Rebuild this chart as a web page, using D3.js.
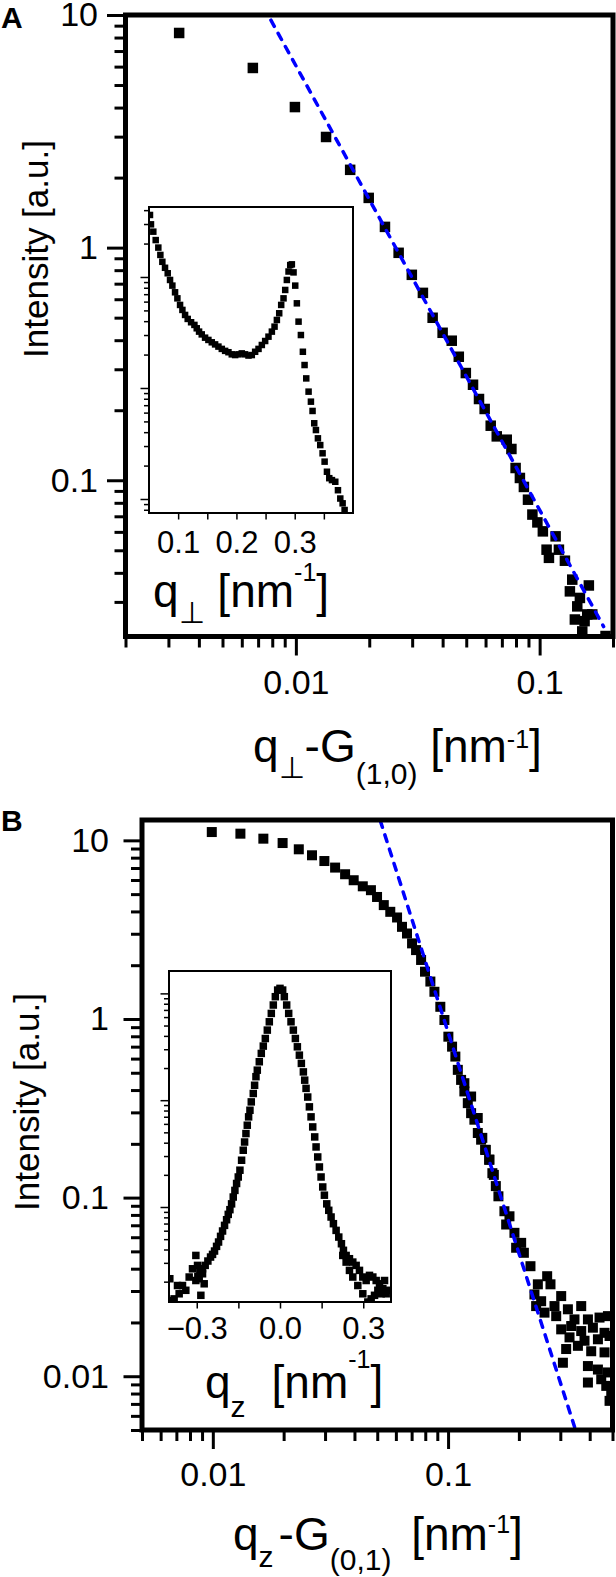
<!DOCTYPE html>
<html>
<head>
<meta charset="utf-8">
<script src="https://cdn.jsdelivr.net/npm/d3@7"></script>
<style>
  body { margin: 0; background: #fff; }
  svg { display: block; }
</style>
</head>
<body>
<div id="vis"></div>
<script>
const width = 616;
const height = 1577;
const FONT = "'Liberation Sans', Arial, Helvetica, sans-serif";

// ---- data: [q, intensity] ----
const mainA = [
  [0.00332, 8.37], [0.00666, 5.92], [0.00991, 4.02], [0.0133, 2.99], [0.0167, 2.16],
  [0.0199, 1.636], [0.0232, 1.228], [0.0264, 0.950], [0.0299, 0.764], [0.0332, 0.639],
  [0.0364, 0.4995], [0.0400, 0.4305], [0.0436, 0.398], [0.0466, 0.3396], [0.0498, 0.289],
  [0.0533, 0.2574], [0.0564, 0.2235], [0.0595, 0.2025], [0.0630, 0.1716], [0.0667, 0.1544],
  [0.0733, 0.1494], [0.0766, 0.1363], [0.0797, 0.1129], [0.0830, 0.1023], [0.0862, 0.0936],
  [0.0896, 0.0825], [0.0934, 0.0712], [0.0979, 0.0659], [0.1031, 0.0603], [0.1163, 0.0574],
  [0.1068, 0.0503], [0.1092, 0.0464], [0.1200, 0.0503], [0.1270, 0.0451], [0.1361, 0.0374],
  [0.1331, 0.0333], [0.1592, 0.0353], [0.1463, 0.0312], [0.1427, 0.0287], [0.1568, 0.0265],
  [0.1644, 0.0265], [0.1395, 0.0252], [0.1529, 0.0248], [0.1496, 0.0224], [0.1864, 0.0214]
];
const fitA = [[0.0079, 9.5], [0.183, 0.0235]];

const insetA = [
  [0.0517, 3.62], [0.0534, 2.98], [0.0574, 2.56], [0.0615, 2.15], [0.0660, 1.84],
  [0.0695, 1.58], [0.0729, 1.37], [0.0775, 1.21], [0.0821, 1.08], [0.0861, 0.94],
  [0.0901, 0.836], [0.0947, 0.728], [0.0987, 0.642], [0.1033, 0.560], [0.1073, 0.505],
  [0.1119, 0.455], [0.1164, 0.419], [0.1222, 0.391], [0.1279, 0.370], [0.1319, 0.345],
  [0.1359, 0.322], [0.1405, 0.304], [0.1462, 0.284], [0.1519, 0.271], [0.1577, 0.258],
  [0.1634, 0.247], [0.1691, 0.236], [0.1749, 0.225], [0.1806, 0.216], [0.1863, 0.210],
  [0.1920, 0.201], [0.1978, 0.198], [0.2035, 0.201], [0.2092, 0.205], [0.2149, 0.201],
  [0.2207, 0.196], [0.2264, 0.198], [0.2321, 0.212], [0.2379, 0.225], [0.2436, 0.244],
  [0.2493, 0.265], [0.2550, 0.290], [0.2608, 0.322], [0.2654, 0.357], [0.2694, 0.410],
  [0.2734, 0.471], [0.2768, 0.560], [0.2808, 0.642], [0.2837, 0.764], [0.2865, 0.94],
  [0.2894, 1.12], [0.2923, 1.28], [0.2951, 1.30], [0.2980, 1.10], [0.3009, 0.836],
  [0.3037, 0.579], [0.3066, 0.396], [0.3106, 0.300], [0.3140, 0.212], [0.3169, 0.161],
  [0.3198, 0.122], [0.3238, 0.0927], [0.3278, 0.0753], [0.3306, 0.0621], [0.3335, 0.0481],
  [0.3364, 0.0418], [0.3398, 0.0352], [0.3438, 0.0306], [0.3478, 0.0258], [0.3513, 0.0217],
  [0.3553, 0.0176], [0.3593, 0.0154], [0.3639, 0.0148], [0.3696, 0.0143], [0.3742, 0.0120],
  [0.3782, 0.0101], [0.3822, 0.00914], [0.3856, 0.00796]
];

const mainB = [
  [0.0099, 11.13], [0.0131, 10.90], [0.0164, 10.22], [0.0198, 9.66], [0.0232, 8.91],
  [0.0264, 8.25], [0.0298, 7.66], [0.0331, 7.04], [0.0365, 6.46], [0.0397, 5.98],
  [0.0434, 5.53], [0.0470, 5.26], [0.0499, 4.82], [0.0533, 4.34], [0.0568, 3.98],
  [0.0607, 3.70], [0.0637, 3.28], [0.0669, 3.01], [0.0703, 2.65], [0.0731, 2.43],
  [0.0768, 2.14], [0.0798, 1.84], [0.0841, 1.62], [0.0875, 1.42], [0.0927, 1.17],
  [0.0965, 0.987], [0.1003, 0.796], [0.1040, 0.700], [0.1074, 0.616], [0.1100, 0.519],
  [0.1136, 0.456], [0.1173, 0.393], [0.1213, 0.338], [0.1253, 0.297], [0.1294, 0.273],
  [0.1338, 0.230], [0.1382, 0.211], [0.1437, 0.185], [0.1499, 0.163], [0.1565, 0.134],
  [0.1173, 0.437], [0.1253, 0.368], [0.1337, 0.279], [0.1398, 0.216], [0.1447, 0.185],
  [0.1495, 0.163], [0.1543, 0.137], [0.1596, 0.116], [0.1637, 0.1017], [0.1736, 0.0839],
  [0.1824, 0.0786], [0.1766, 0.0707], [0.1915, 0.0635], [0.2045, 0.0558], [0.1947, 0.0524],
  [0.2100, 0.0491], [0.2240, 0.0413], [0.2638, 0.0363], [0.2408, 0.0327], [0.2725, 0.0327],
  [0.2329, 0.0287], [0.2487, 0.0263], [0.3026, 0.0281], [0.2834, 0.0247], [0.2368, 0.0247],
  [0.2570, 0.0227], [0.3231, 0.0237], [0.3681, 0.0247], [0.2882, 0.0217], [0.3446, 0.0208],
  [0.3931, 0.0208], [0.4404, 0.0213], [0.4782, 0.0217], [0.3026, 0.0183], [0.3338, 0.0191],
  [0.3681, 0.0179], [0.4127, 0.0187], [0.4625, 0.0175], [0.3283, 0.0165], [0.3802, 0.0158],
  [0.4335, 0.0161], [0.4858, 0.0168], [0.3177, 0.0142], [0.3564, 0.0148], [0.4059, 0.0138],
  [0.4625, 0.0136], [0.3077, 0.0119], [0.3931, 0.0114], [0.4335, 0.0109], [0.4782, 0.0105],
  [0.4478, 0.00962], [0.3931, 0.00922], [0.4704, 0.00883], [0.4939, 0.00811], [0.4858, 0.00728]
];
const fitB = [[0.0515, 12.9], [0.345, 0.0052]];

const insetB = [
  [0, 1.114], [0.0096, 1.074],
  [-0.0084, 1.074], [-0.0168, 0.931], [-0.0241, 0.778], [-0.0313, 0.649], [-0.0385, 0.542],
  [-0.0457, 0.453], [-0.0529, 0.378], [-0.0602, 0.321], [-0.0674, 0.274], [-0.0746, 0.229],
  [-0.0818, 0.191], [-0.0866, 0.166], [-0.0915, 0.138], [-0.0963, 0.1155], [-0.1035, 0.0964],
  [-0.1083, 0.0805], [-0.1131, 0.0698], [-0.1179, 0.0583], [-0.1227, 0.0487], [-0.1276, 0.0406],
  [-0.1324, 0.0340], [-0.1384, 0.0274], [-0.1444, 0.0221], [-0.1504, 0.0191], [-0.1564, 0.0166],
  [-0.1625, 0.0143], [-0.1685, 0.0124], [-0.1745, 0.0107], [-0.1805, 0.00944], [-0.1865, 0.00853],
  [-0.1925, 0.00760], [-0.1998, 0.00673], [-0.2070, 0.00596], [-0.2142, 0.00531], [-0.2214, 0.00470],
  [-0.2286, 0.00428], [-0.2359, 0.00387], [-0.2431, 0.00360], [-0.2503, 0.00340], [-0.2599, 0.00312],
  [-0.2696, 0.00284], [-0.2792, 0.00264], [-0.2888, 0.00246], [-0.2960, 0.00224], [-0.3032, 0.00205],
  [-0.3032, 0.00352], [-0.3153, 0.00264], [-0.2972, 0.00284], [-0.2912, 0.00213], [-0.2792, 0.00237],
  [-0.2852, 0.00149], [-0.2732, 0.00191], [-0.3273, 0.00221], [-0.3394, 0.00166], [-0.3514, 0.00184],
  [-0.3634, 0.00154], [-0.3694, 0.00184], [-0.3815, 0.00138], [-0.3971, 0.00213], [-0.3935, 0.00133],
  [0.0156, 0.931], [0.0241, 0.778], [0.0313, 0.649], [0.0397, 0.542], [0.0481, 0.453],
  [0.0554, 0.378], [0.0626, 0.316], [0.0698, 0.264], [0.0770, 0.221], [0.0842, 0.184],
  [0.0890, 0.154], [0.0939, 0.129], [0.0999, 0.107], [0.1059, 0.0866], [0.1119, 0.0698],
  [0.1179, 0.0562], [0.1251, 0.0453], [0.1300, 0.0365], [0.1360, 0.0294], [0.1420, 0.0237],
  [0.1480, 0.0191], [0.1540, 0.0154], [0.1600, 0.0129], [0.1685, 0.0107], [0.1757, 0.00931],
  [0.1841, 0.00806], [0.1925, 0.00698], [0.2022, 0.00604], [0.2118, 0.00523], [0.2214, 0.00453],
  [0.2286, 0.00393], [0.2383, 0.00352], [0.2503, 0.00328], [0.2623, 0.00305], [0.2744, 0.00284],
  [0.2864, 0.00255], [0.2984, 0.00221], [0.3105, 0.00205],
  [0.2262, 0.00352], [0.2383, 0.00305], [0.2503, 0.00255], [0.2623, 0.00221], [0.2804, 0.00184],
  [0.2984, 0.00154], [0.3165, 0.00129], [0.3285, 0.00138], [0.3406, 0.00149], [0.3526, 0.00166],
  [0.3646, 0.00154], [0.3767, 0.00205], [0.3887, 0.00166], [0.3225, 0.00229], [0.3345, 0.00221],
  [0.3466, 0.00205], [0.3586, 0.00191], [0.3706, 0.00172], [0.3827, 0.00154]
];

// tick values
const xTicksA = [0.01, 0.1];
const yTicksA = [0.1, 1, 10];
const xTicksB = [0.01, 0.1];
const yTicksB = [0.01, 0.1, 1, 10];
const insetTicksA = [0.1, 0.2, 0.3];
const insetMinorA = [0.15, 0.25, 0.35];
const insetTicksB = [-0.3, 0, 0.3];
const insetMinorB = [-0.15, 0.15];

const svg = d3.select('#vis').append('svg')
  .attr('width', width)
  .attr('height', height)
  .attr('font-family', FONT);

// minor ticks of a log domain (2..9 of each decade)
function logMinors(domain) {
  const out = [];
  const lo = Math.floor(Math.log10(domain[0])), hi = Math.ceil(Math.log10(domain[1]));
  for (let e = lo; e <= hi; e++) {
    for (let k = 2; k < 10; k++) {
      const v = k * Math.pow(10, e);
      if (v >= domain[0] && v <= domain[1]) out.push(v);
    }
  }
  return out;
}

function styleAxis(g, w, size) {
  g.select('.domain').remove();
  g.selectAll('line').attr('stroke-width', w);
  g.selectAll('text').attr('font-family', FONT).attr('font-size', size);
}

// text built from pieces with sub/superscripts
function richText(parent, x, y, parts, size) {
  const t = parent.append('text')
    .attr('x', x)
    .attr('y', y)
    .attr('font-size', size)
    .attr('fill', '#000');
  let shift = 0;
  parts.forEach(p => {
    const dy = p.dy || 0;
    t.append('tspan')
      .attr('dy', dy - shift)
      .attr('dx', p.dx || 0)
      .attr('font-size', p.size || size)
      .text(p.text);
    shift = dy;
  });
  return t;
}

function drawMarkers(g, data, x, y, s) {
  g.selectAll(null)
    .data(data)
    .enter().append('rect')
    .attr('x', d => x(d[0]) - s / 2)
    .attr('y', d => y(d[1]) - s / 2)
    .attr('width', s)
    .attr('height', s)
    .attr('fill', '#000');
}

function drawMain(p) {
  const x = p.x, y = p.y;
  const [x0, x1] = x.range(), [y0, y1] = y.range();
  const clipId = 'clip' + p.id;
  svg.append('clipPath').attr('id', clipId)
    .append('rect')
    .attr('x', x0).attr('y', y1)
    .attr('width', x1 - x0).attr('height', y0 - y1);

  const plot = svg.append('g').attr('clip-path', `url(#${clipId})`);
  drawMarkers(plot, p.data, x, y, p.marker);
  plot.append('path')
    .datum(p.fit)
    .attr('d', d3.line().x(d => x(d[0])).y(d => y(d[1])))
    .attr('fill', 'none')
    .attr('stroke', '#0000ff')
    .attr('stroke-width', 3.5)
    .attr('stroke-linecap', 'round')
    .attr('stroke-dasharray', '7,8');

  // axes
  svg.append('g').attr('transform', `translate(${x0},0)`)
    .call(d3.axisLeft(y).tickValues(logMinors(y.domain())).tickSize(11).tickFormat(''))
    .call(g => styleAxis(g, 3, 34));
  svg.append('g').attr('transform', `translate(${x0},0)`)
    .call(d3.axisLeft(y).tickValues(p.yTicks).tickSize(18.5).tickPadding(p.yPad).tickFormat(String))
    .call(g => styleAxis(g, 3, 34));
  svg.append('g').attr('transform', `translate(0,${y0})`)
    .call(d3.axisBottom(x).tickValues(logMinors(x.domain())).tickSize(11).tickFormat(''))
    .call(g => styleAxis(g, 3, 34));
  svg.append('g').attr('transform', `translate(0,${y0})`)
    .call(d3.axisBottom(x).tickValues(p.xTicks).tickSize(19).tickPadding(p.xPad).tickFormat(String))
    .call(g => styleAxis(g, 3, 34));

  svg.append('rect')
    .attr('x', x0).attr('y', y1)
    .attr('width', x1 - x0).attr('height', y0 - y1)
    .attr('fill', 'none')
    .attr('stroke', '#000')
    .attr('stroke-width', 5);
}

function drawInset(p) {
  const x = p.x, y = p.y;
  const [x0, x1] = x.range(), [y0, y1] = y.range();
  svg.append('rect')
    .attr('x', x0).attr('y', y1)
    .attr('width', x1 - x0).attr('height', y0 - y1)
    .attr('fill', '#fff');
  const clipId = 'clip' + p.id;
  svg.append('clipPath').attr('id', clipId)
    .append('rect')
    .attr('x', x0).attr('y', y1)
    .attr('width', x1 - x0).attr('height', y0 - y1);
  const plot = svg.append('g').attr('clip-path', `url(#${clipId})`);
  drawMarkers(plot, p.data, x, y, p.marker);

  svg.append('g').attr('transform', `translate(${x0},0)`)
    .call(d3.axisLeft(y).tickValues(logMinors(y.domain())).tickSize(5).tickFormat(''))
    .call(g => styleAxis(g, 1.5, 10));
  svg.append('g').attr('transform', `translate(${x0},0)`)
    .call(d3.axisLeft(y).tickValues(p.yMajors).tickSize(8.5).tickFormat(''))
    .call(g => styleAxis(g, 1.5, 10));
  svg.append('g').attr('transform', `translate(0,${y0})`)
    .call(d3.axisBottom(x).tickValues(p.xMinor).tickSize(6.5).tickFormat(''))
    .call(g => styleAxis(g, 1.5, 10));
  svg.append('g').attr('transform', `translate(0,${y0})`)
    .call(d3.axisBottom(x).tickValues(p.xTicks).tickSize(6.5).tickPadding(p.xPad).tickFormat(p.fmt))
    .call(g => styleAxis(g, 1.5, 31));

  svg.append('rect')
    .attr('x', x0).attr('y', y1)
    .attr('width', x1 - x0).attr('height', y0 - y1)
    .attr('fill', 'none')
    .attr('stroke', '#000')
    .attr('stroke-width', 2);
}

// ---- panel A ----
drawMain({
  id: 'A',
  x: d3.scaleLog().domain([0.002, 0.2]).range([125.5, 613]),
  y: d3.scaleLog().domain([0.0213, 10]).range([636.5, 15]),
  data: mainA, fit: fitA, marker: 10.5,
  xTicks: xTicksA, yTicks: yTicksA, xPad: 14, yPad: 9
});
drawInset({
  id: 'Ai',
  x: d3.scaleLinear().domain([0.05, 0.4]).range([149, 353]),
  y: d3.scaleLog().domain([0.00748, 4.27]).range([513, 207]),
  data: insetA, marker: 6.5,
  yMajors: [0.01, 0.1, 1],
  xTicks: insetTicksA, xMinor: insetMinorA, xPad: 11, fmt: String
});

// ---- panel B ----
drawMain({
  id: 'B',
  x: d3.scaleLog().domain([0.005, 0.5]).range([142, 612.5]),
  y: d3.scaleLog().domain([0.005, 13]).range([1430, 820]),
  data: mainB, fit: fitB, marker: 10,
  xTicks: xTicksB, yTicks: yTicksB, xPad: 13, yPad: 14.5
});
drawInset({
  id: 'Bi',
  x: d3.scaleLinear().domain([-0.4, 0.4]).range([169, 391]),
  y: d3.scaleLog().domain([0.00129, 1.62]).range([1302, 971]),
  data: insetB, marker: 7.5,
  yMajors: [0.01, 0.1, 1],
  xTicks: insetTicksB, xMinor: insetMinorB, xPad: 8, fmt: d3.format('.1f')
});

// ---- labels ----
svg.append('text').attr('x', 1).attr('y', 28)
  .attr('font-size', 30).attr('font-weight', 'bold').text('A');
svg.append('text').attr('x', 1).attr('y', 831)
  .attr('font-size', 30).attr('font-weight', 'bold').text('B');

svg.append('text')
  .attr('transform', 'translate(48,249) rotate(-90)')
  .attr('text-anchor', 'middle')
  .attr('font-size', 35)
  .text('Intensity [a.u.]');
svg.append('text')
  .attr('transform', 'translate(39,1102) rotate(-90)')
  .attr('text-anchor', 'middle')
  .attr('font-size', 35)
  .text('Intensity [a.u.]');

richText(svg, 253, 762, [
  { text: 'q' },
  { text: '\u22A5', dy: 16, size: 30 },
  { text: '-G' },
  { text: '(1,0)', dy: 22, size: 30 },
  { text: ' [nm' },
  { text: '-1', dy: -14, size: 25 },
  { text: ']' }
], 46);

richText(svg, 153, 607, [
  { text: 'q' },
  { text: '\u22A5', dy: 16, size: 30 },
  { text: ' [nm' },
  { text: '-1', dy: -26, size: 25 },
  { text: ']' }
], 46);

richText(svg, 233, 1550, [
  { text: 'q' },
  { text: 'z', dy: 17, size: 30 },
  { text: '-G', dx: 5 },
  { text: '(0,1)', dy: 20, size: 30 },
  { text: ' [nm', dx: 7 },
  { text: '-1', dy: -17, size: 25 },
  { text: ']' }
], 46);

richText(svg, 205, 1398, [
  { text: 'q' },
  { text: 'z', dy: 19, size: 30 },
  { text: '[nm', dx: 26 },
  { text: '-1', dy: -30, size: 25 },
  { text: ']' }
], 46);
</script>
</body>
</html>
